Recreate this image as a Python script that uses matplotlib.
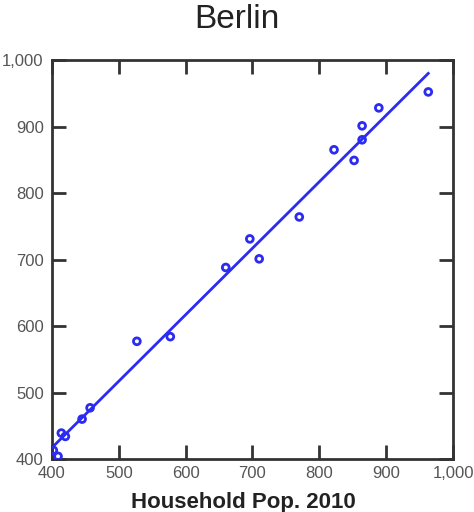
import numpy as np
import matplotlib.pyplot as plt
from matplotlib.ticker import FuncFormatter, FixedLocator

plt.rcParams['font.family'] = ['Liberation Sans', 'DejaVu Sans']

# Household population 2010 vs later estimate (thousands)
household_2010 = [402, 409, 414, 420, 445, 457, 527, 577, 660, 696, 710,
                  770, 822, 852, 864, 864, 889, 963]
household_est = [413, 404, 439, 434, 460, 477, 577, 584, 688, 731, 701,
                 764, 865, 849, 901, 880, 928, 952]
x_ticks = [400, 500, 600, 700, 800, 900, 1000]
y_ticks = [400, 500, 600, 700, 800, 900, 1000]

blue = '#2b2bf2'
spine_col = '#333333'


def thousands(v, pos):
    return f'{int(v):,}'


fig = plt.figure(figsize=(4.74, 5.12), dpi=100)
ax = fig.add_axes([0.1097, 0.1035, 0.846, 0.7793])

# least squares fit line across the observed range
slope, intercept = np.polyfit(household_2010, household_est, 1)
fit_x = np.array([400, max(household_2010)])
ax.plot(fit_x, slope * fit_x + intercept, color=blue, lw=2, zorder=2)

ax.scatter(household_2010, household_est, s=24, facecolors='none',
           edgecolors=blue, linewidths=2, zorder=3)

ax.set_xlim(400, 1000)
ax.set_ylim(400, 1000)
ax.xaxis.set_major_locator(FixedLocator(x_ticks))
ax.yaxis.set_major_locator(FixedLocator(y_ticks))
ax.xaxis.set_major_formatter(FuncFormatter(thousands))
ax.yaxis.set_major_formatter(FuncFormatter(thousands))

ax.tick_params(direction='in', length=10, width=2, color=spine_col,
               labelsize=12, labelcolor='#555555', top=True, right=True,
               pad=5)
ax.tick_params(axis='y', pad=6)
for s in ax.spines.values():
    s.set_linewidth(2)
    s.set_color(spine_col)

fig.text(0.514, 1 - 508 / 512, 'Household Pop. 2010', fontsize=16,
         fontweight='bold', color='#222222', ha='center', va='baseline')
fig.text(0.5, 1 - 28 / 512, 'Berlin', fontsize=24, color='#222222',
         ha='center', va='baseline')

fig.savefig('out.png', dpi=100)
